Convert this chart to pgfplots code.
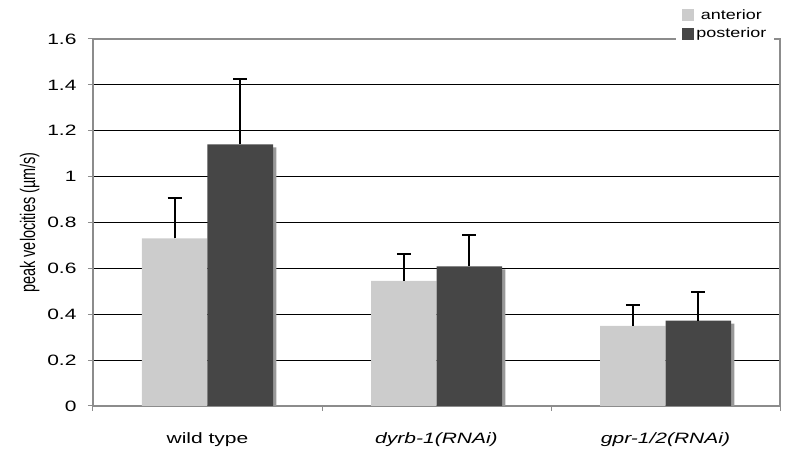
\documentclass[border=0pt]{standalone}
\usepackage{pgfplots}
\pgfplotsset{compat=1.18}
\usepackage{fontspec}
\setmainfont{Liberation Sans}

\definecolor{ant}{HTML}{CCCCCC}
\definecolor{post}{HTML}{464646}
\definecolor{shade}{HTML}{999999}
\definecolor{axgray}{HTML}{8C8C8C}

% the source chart is stretched sideways, so its text is wider than tall
\newcommand\sx[1]{\scalebox{1.4}[1]{#1}}

% peak velocities, mean and upper error
\pgfplotstableread{
x ant anterr post posterr
0 0.731 0.174 1.141 0.283
1 0.545 0.119 0.609 0.135
2 0.349 0.093 0.372 0.124
}\velo

\begin{document}
\begin{tikzpicture}
\path[use as bounding box] (0,0) rectangle (785pt,449pt);
\begin{axis}[
    at={(93pt,43pt)}, anchor=south west,
    scale only axis, width=687pt, height=367pt,
    xmin=-0.5, xmax=2.5, ymin=0, ymax=1.6,
    ytick={0,0.2,0.4,0.6,0.8,1,1.2,1.4,1.6},
    yticklabel={\sx{\pgfmathprintnumber{\tick}}},
    xtick={-0.5,0.5,1.5,2.5},
    x tick label as interval,
    xticklabels={\sx{wild type}, \sx{\textit{dyrb-1(RNAi)}}, \sx{\textit{gpr-1/2(RNAi)}}},
    ymajorgrids, grid style={black, line width=0.8pt},
    axis line style={axgray, line width=1.8pt},
    tick style={axgray, line width=1pt},
    major tick length=5pt, tick align=outside,
    ytick pos=left, xtick pos=bottom,
    /pgf/number format/assume math mode=true,
    yticklabel style={font=\fontsize{15}{18}\selectfont, xshift=-8pt},
    xticklabel style={font=\fontsize{15}{18}\selectfont, yshift=-18pt},
    ylabel={\scalebox{1}[1.45]{peak velocities (µm/s)}},
    ylabel style={at={(axis description cs:-0.092,0.5)}, anchor=center, font=\fontsize{14.5}{17}\selectfont},
    ybar=0pt, bar width=65.5pt,
    legend style={at={(0.849,1.094)}, anchor=north west, draw=none, fill=white,
        font=\fontsize{13.5}{16}\selectfont, row sep=3pt, inner xsep=6pt, inner ysep=3pt},
    legend image code/.code={\fill[#1] (0pt,-6pt) rectangle (12pt,6pt);},
]
  \addplot[fill=ant, draw=none, bar shift=-32.75pt,
    error bars/.cd, y dir=plus, y explicit,
    error bar style={black, line width=2pt},
    error mark options={rotate=90, mark size=7pt, line width=2pt, black}]
    table[x=x, y=ant, y error=anterr]{\velo};
  \addplot[fill=shade, draw=none, bar shift=36pt, yshift=-3pt, forget plot]
    table[x=x, y=post]{\velo};
  \addplot[fill=post, draw=none, bar shift=32.75pt,
    error bars/.cd, y dir=plus, y explicit,
    error bar style={black, line width=2pt},
    error mark options={rotate=90, mark size=7pt, line width=2pt, black}]
    table[x=x, y=post, y error=posterr]{\velo};
  \legend{\scalebox{1.33}[1]{anterior}, \scalebox{1.33}[1]{posterior}}
\end{axis}
\end{tikzpicture}
\end{document}
